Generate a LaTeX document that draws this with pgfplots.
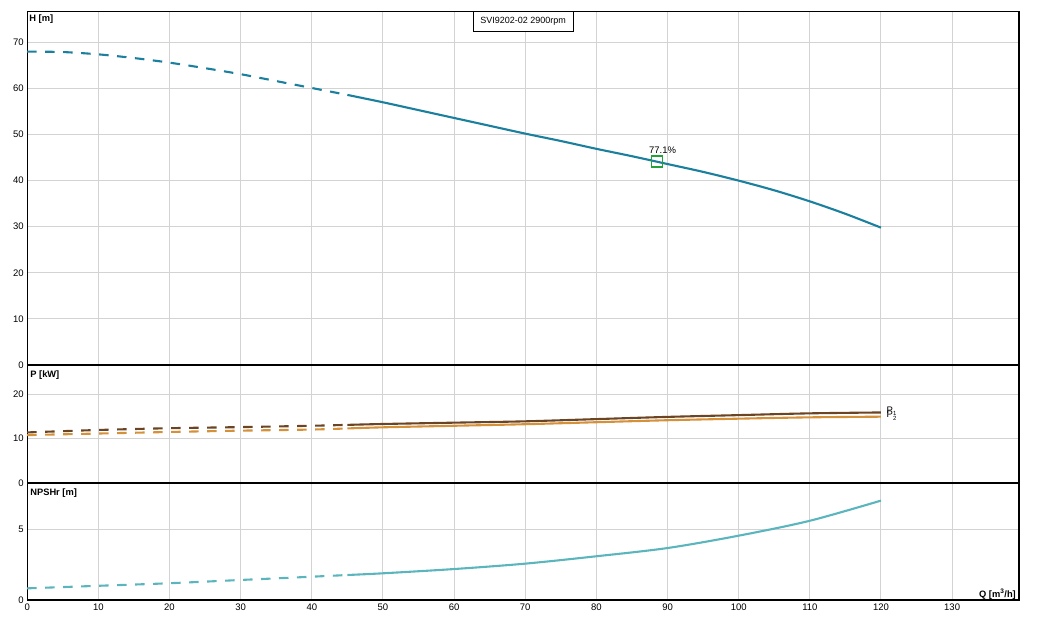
\documentclass[border=0pt]{standalone}
\usepackage{pgfplots}
\pgfplotsset{compat=1.18}
\usepackage{fontspec}
\setmainfont{Liberation Sans}
\definecolor{hcol}{HTML}{1B7F9E}
\definecolor{ncol}{HTML}{5BB5BD}
\definecolor{p1col}{HTML}{6B4423}
\definecolor{p2col}{HTML}{D4913A}
\definecolor{sqcol}{HTML}{22A33A}
\definecolor{gridc}{HTML}{D3D3D3}
\tikzset{
  dsh/.style={dash pattern=on 9.5pt off 8.5pt},
  lab/.style={font=\bfseries\fontsize{9.3}{10}\selectfont, inner sep=0pt, anchor=west},
}
\pgfplotsset{
  panel/.style={
    scale only axis, width=991.8pt,
    xmin=0, xmax=139.4, xtick={0,10,...,130},
    grid=major, major grid style={color=gridc, line width=1pt},
    major tick length=0pt,
    axis line style={line width=1.1pt},
    tick label style={font=\fontsize{9.5}{10}\selectfont},
    /pgf/number format/assume math mode=true,
    every axis plot/.append style={line width=2.1pt},
    after end axis/.code={\draw[line width=2.6pt] (rel axis cs:0,0) -- (rel axis cs:1,0);},
    anchor=south west,
  },
}
\begin{document}
\begin{tikzpicture}
\useasboundingbox (0pt,0pt) rectangle (1039pt,628pt);
% ---------------- H panel
\begin{axis}[panel, at={(27.2pt,263pt)}, height=353.5pt,
  ymin=0, ymax=76.7, ytick={0,10,...,70}, xticklabels={}]
\addplot[hcol, smooth, dsh] coordinates {(0,68.0) (5,67.9) (10,67.4) (15,66.6) (20,65.6) (25,64.4) (30,63.1) (35,61.6) (40,60.1) (45,58.6)};
\addplot[hcol, smooth] coordinates {(45,58.6) (50,57.0) (55,55.3) (60,53.6) (65,51.9) (70,50.2) (75,48.6) (80,46.9) (85,45.3) (90,43.6) (95,41.9) (100,40.0) (105,37.9) (110,35.5) (115,32.8) (120,29.8)};
\addplot[only marks, mark=square, mark size=5.5pt, mark options={draw=sqcol, line width=1.5pt}] coordinates {(88.5,44.1)};
\node[font=\fontsize{9.5}{10}\selectfont, inner sep=0pt] at (axis cs:89.3,46.7) {77.1\%};
\node[lab] at (rel axis cs:0,1) [xshift=2pt, yshift=-8pt] {H [m]};
\node[draw, line width=1pt, fill=white, anchor=north, minimum width=100pt, minimum height=19.5pt, inner sep=0pt, font=\fontsize{9}{10}\selectfont] at (rel axis cs:0.5,1) {SVI9202-02 2900rpm};
\end{axis}
% ---------------- P panel
\begin{axis}[panel, at={(27.2pt,145pt)}, height=118pt,
  ymin=0, ymax=26.6, ytick={0,10,20}, xticklabels={}]
\addplot[p1col, smooth, dsh] coordinates {(0,11.4) (10,11.95) (20,12.35) (30,12.6) (40,12.9) (45,13.1)};
\addplot[p1col, smooth] coordinates {(45,13.1) (50,13.3) (60,13.6) (70,13.9) (80,14.4) (90,14.9) (100,15.3) (110,15.7) (120,15.9)};
\addplot[p2col, smooth, dsh] coordinates {(0,10.8) (10,11.15) (20,11.5) (30,11.8) (40,12.05) (45,12.3)};
\addplot[p2col, smooth] coordinates {(45,12.3) (50,12.55) (60,12.9) (70,13.25) (80,13.7) (90,14.15) (100,14.5) (110,14.8) (120,14.95)};
\node[font=\fontsize{9.5}{10}\selectfont, inner sep=0pt, anchor=west] at (axis cs:120,16.1) [xshift=5.5pt] {P\raisebox{-2pt}{\fontsize{6}{6}\selectfont 1}};
\node[font=\fontsize{9.5}{10}\selectfont, inner sep=0pt, anchor=west] at (axis cs:120,15.2) [xshift=5.5pt] {P\raisebox{-2.5pt}{\fontsize{6}{6}\selectfont 2}};
\node[lab] at (rel axis cs:0,1) [xshift=3pt, yshift=-10.5pt] {P [kW]};
\end{axis}
% ---------------- NPSH panel
\begin{axis}[panel, at={(27.2pt,28pt)}, height=117pt,
  ymin=0, ymax=8.24, ytick={0,5}]
\addplot[ncol, smooth, dsh] coordinates {(0,0.82) (10,1.0) (20,1.18) (30,1.41) (40,1.64) (45,1.76)};
\addplot[ncol, smooth] coordinates {(45,1.76) (50,1.88) (60,2.18) (70,2.56) (80,3.08) (90,3.66) (100,4.53) (110,5.58) (120,7.0)};
\node[lab] at (rel axis cs:0,1) [xshift=3pt, yshift=-10.3pt] {NPSHr [m]};
\node[font=\bfseries\fontsize{9.3}{10}\selectfont, inner sep=0pt, anchor=east] at (rel axis cs:1,0) [xshift=-3pt, yshift=6pt] {Q [m\textsuperscript{3}/h]};
\end{axis}
\end{tikzpicture}
\end{document}
